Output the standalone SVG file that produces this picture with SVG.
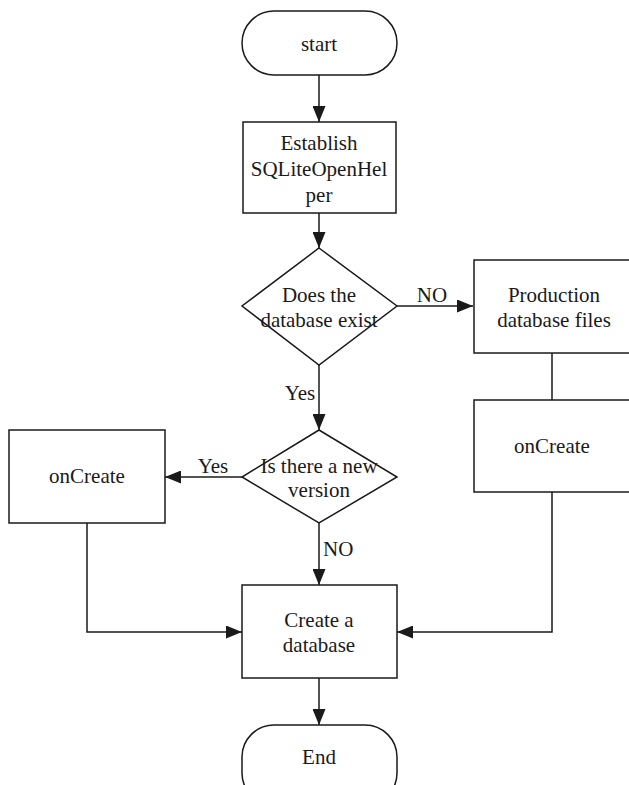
<svg xmlns="http://www.w3.org/2000/svg" width="629" height="785" viewBox="0 0 629 785">
<defs>
<marker id="arrb" viewBox="0 0 16 13" refX="16" refY="6.5" markerWidth="16" markerHeight="13" markerUnits="userSpaceOnUse" orient="auto">
<path d="M0,0 L16,6.5 L0,13 z" fill="#1a1a1a"/>
</marker>
</defs>
<style>
.s{fill:#fff;stroke:#1a1a1a;stroke-width:1.5}
.c{fill:none;stroke:#1a1a1a;stroke-width:1.5}
text{font-family:"Liberation Serif","Times New Roman",serif;font-size:21px;fill:#1a1a1a;text-anchor:middle}
.l{text-anchor:start}
</style>
<rect width="629" height="785" fill="#fff"/>
<g id="connectors">
<path class="c" d="M319,75 V122" marker-end="url(#arrb)"/>
<path class="c" d="M319,213 V248" marker-end="url(#arrb)"/>
<path class="c" d="M397,306 H473" marker-end="url(#arrb)"/>
<path class="c" d="M552,353 V400"/>
<path class="c" d="M319,365 V430" marker-end="url(#arrb)"/>
<path class="c" d="M242,477 H165" marker-end="url(#arrb)"/>
<path class="c" d="M319,523 V585" marker-end="url(#arrb)"/>
<path class="c" d="M87,523 V632 H242" marker-end="url(#arrb)"/>
<path class="c" d="M552,492 V632 H397" marker-end="url(#arrb)"/>
<path class="c" d="M319,678 V725" marker-end="url(#arrb)"/>
<text x="432" y="302">NO</text>
<text x="300" y="400">Yes</text>
<text x="213" y="473">Yes</text>
<text class="l" x="323" y="556">NO</text>
</g>
<g id="start">
<rect class="s" x="242" y="11" width="155" height="64" rx="32" ry="32"/>
<text x="319" y="51">start</text>
</g>
<g id="establish">
<rect class="s" x="243" y="122" width="153" height="91"/>
<text x="319" y="150">Establish</text>
<text x="319" y="176">SQLiteOpenHel</text>
<text x="319" y="202">per</text>
</g>
<g id="exist">
<polygon class="s" points="319,248 397,306 319,365 242,306"/>
<text x="319" y="302">Does the</text>
<text x="319" y="327">database exist</text>
</g>
<g id="production">
<rect class="s" x="474" y="260" width="158" height="93"/>
<text x="554" y="302">Production</text>
<text x="554" y="327">database files</text>
</g>
<g id="oncreate-right">
<rect class="s" x="474" y="400" width="158" height="92"/>
<text x="552" y="453">onCreate</text>
</g>
<g id="newversion">
<polygon class="s" points="319,430 397,477 319,523 242,477"/>
<text x="319" y="473">Is there a new</text>
<text x="319" y="497">version</text>
</g>
<g id="oncreate-left">
<rect class="s" x="9" y="430" width="156" height="93"/>
<text x="87" y="483">onCreate</text>
</g>
<g id="create">
<rect class="s" x="242" y="585" width="155" height="93"/>
<text x="319" y="627">Create a</text>
<text x="319" y="652">database</text>
</g>
<g id="end">
<rect class="s" x="242" y="725" width="155" height="80" rx="32" ry="32"/>
<text x="319" y="764">End</text>
</g>
</svg>
